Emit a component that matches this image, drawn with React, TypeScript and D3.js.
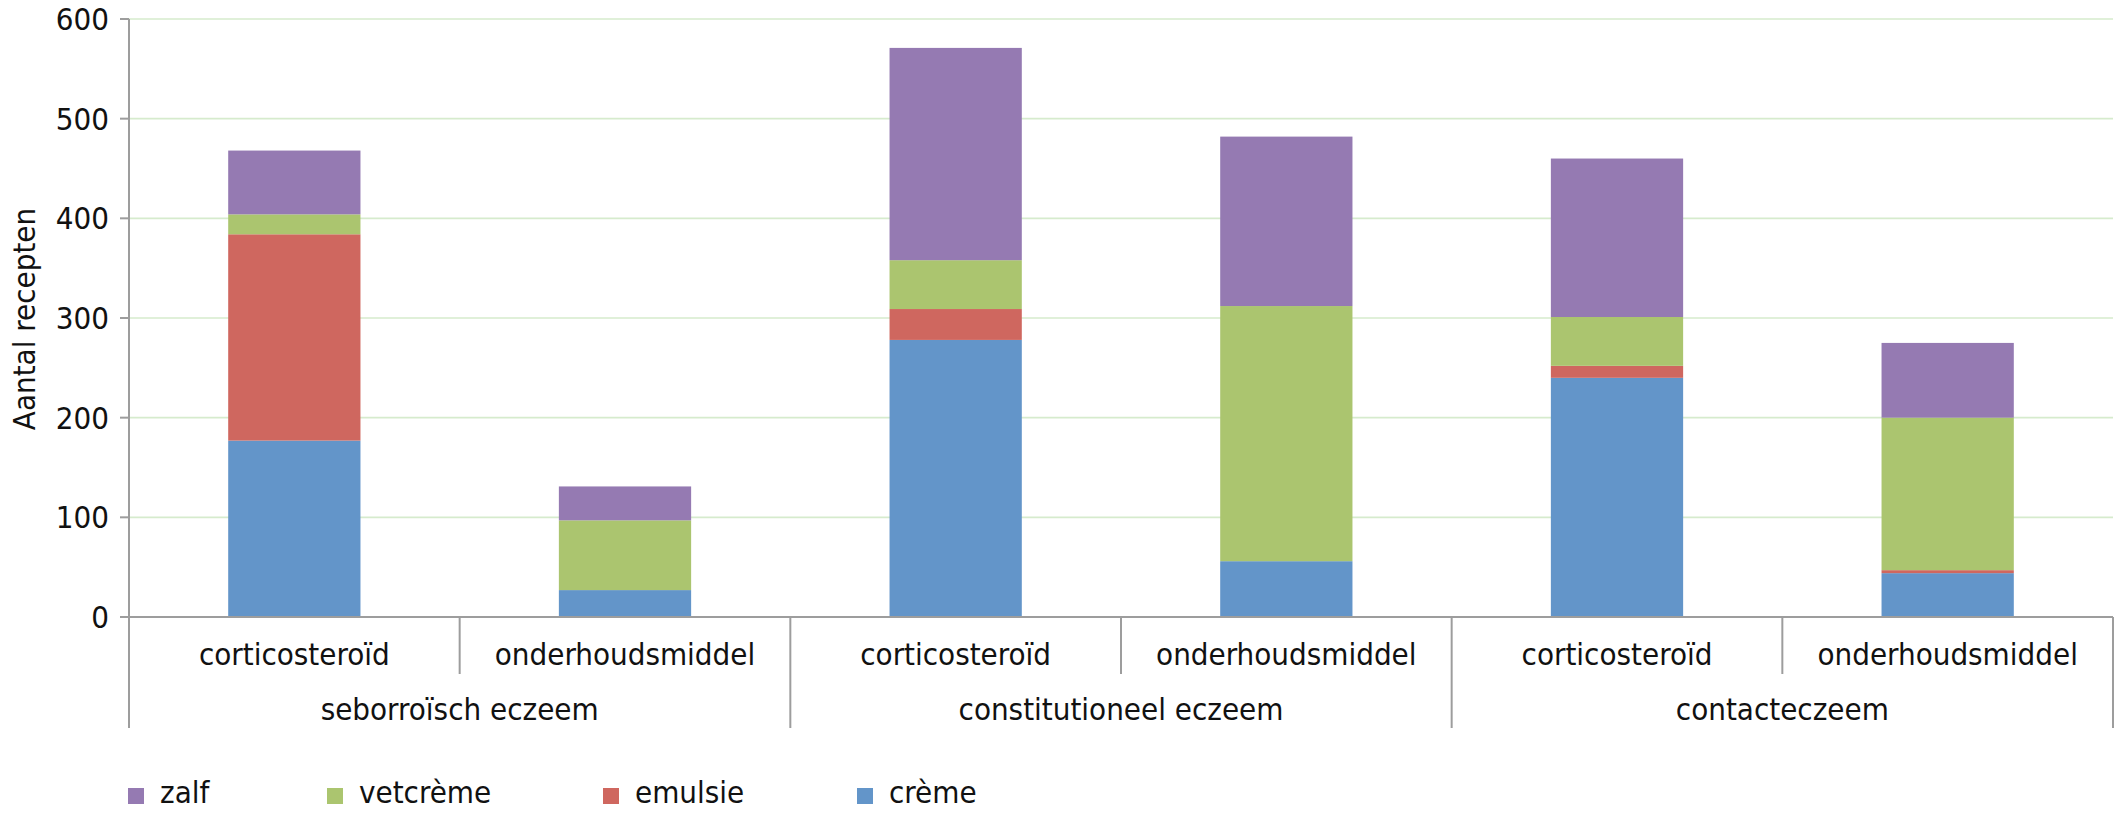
import React, { useEffect, useRef } from 'react'
import * as d3 from 'd3'

// categories
const groups = ['seborroïsch eczeem', 'constitutioneel eczeem', 'contacteczeem']
const subTypes = ['corticosteroïd', 'onderhoudsmiddel']

// series values, one per bar (group x subtype)
const creme = [177, 27, 278, 56, 240, 44]
const emulsie = [207, 0, 31, 0, 12, 3]
const vetcreme = [20, 70, 49, 256, 49, 153]
const zalf = [64, 34, 213, 170, 159, 75]

const seriesNames = ['crème', 'emulsie', 'vetcrème', 'zalf']
const seriesColors = ['#6395c9', '#cf675f', '#abc56f', '#957ab2']
const legendOrder = ['zalf', 'vetcrème', 'emulsie', 'crème']

const yTicks = [0, 100, 200, 300, 400, 500, 600]

const W = 2126
const H = 835
const FONT = '"DejaVu Sans Condensed", "DejaVu Sans", sans-serif'

export default function App() {
    const svgRef = useRef<SVGSVGElement>(null)

    useEffect(() => {
        document.body.style.margin = '0'
        document.body.style.overflow = 'hidden'

        const svg = d3.select(svgRef.current)
        svg.selectAll('*').remove()

        const left = 129, right = 2113, top = 19, bottom = 617

        const keys: string[] = []
        groups.forEach(g => subTypes.forEach(s => keys.push(g + '|' + s)))

        const rows = keys.map((k, i) => ({
            key: k,
            'crème': creme[i],
            'emulsie': emulsie[i],
            'vetcrème': vetcreme[i],
            'zalf': zalf[i],
        }))

        const x = d3.scaleBand<string>()
            .domain(keys)
            .range([left, right])
            .paddingInner(0.6)
            .paddingOuter(0.3)

        const y = d3.scaleLinear().domain([0, 600]).range([bottom, top])

        const color = d3.scaleOrdinal<string, string>().domain(seriesNames).range(seriesColors)

        const stacked = d3.stack<any>().keys(seriesNames)(rows)

        // gridlines
        svg.append('g')
            .selectAll('line')
            .data(yTicks.filter(t => t > 0))
            .join('line')
            .attr('x1', left)
            .attr('x2', right)
            .attr('y1', d => y(d))
            .attr('y2', d => y(d))
            .attr('stroke', '#d6ebcd')
            .attr('stroke-width', 1.6)

        // bars
        svg.append('g')
            .selectAll('g')
            .data(stacked)
            .join('g')
            .attr('fill', d => color(d.key))
            .selectAll('rect')
            .data(d => d)
            .join('rect')
            .attr('x', d => x(d.data.key)!)
            .attr('width', x.bandwidth())
            .attr('y', d => y(d[1]))
            .attr('height', d => y(d[0]) - y(d[1]))

        // y axis
        const yAxis = svg.append('g')
        yAxis.append('line')
            .attr('x1', left).attr('x2', left)
            .attr('y1', top).attr('y2', bottom)
            .attr('stroke', '#9d9d9d').attr('stroke-width', 2)
        yAxis.selectAll('line.tick')
            .data(yTicks)
            .join('line')
            .attr('class', 'tick')
            .attr('x1', left - 9).attr('x2', left)
            .attr('y1', d => y(d)).attr('y2', d => y(d))
            .attr('stroke', '#9d9d9d').attr('stroke-width', 2)
        yAxis.selectAll('text')
            .data(yTicks)
            .join('text')
            .attr('x', 109)
            .attr('y', d => y(d))
            .attr('dy', '0.36em')
            .attr('text-anchor', 'end')
            .style('font', '31px ' + FONT)
            .attr('fill', '#111')
            .text(d => d)

        svg.append('text')
            .attr('transform', 'translate(35,319) rotate(-90)')
            .attr('text-anchor', 'middle')
            .style('font', '31px ' + FONT)
            .attr('fill', '#111')
            .text('Aantal recepten')

        // x axis with two category levels
        const step = x.step()
        const xAxis = svg.append('g')
        xAxis.append('line')
            .attr('x1', left).attr('x2', right)
            .attr('y1', bottom).attr('y2', bottom)
            .attr('stroke', '#9d9d9d').attr('stroke-width', 2)
        xAxis.selectAll('line.sep')
            .data(d3.range(keys.length + 1))
            .join('line')
            .attr('class', 'sep')
            .attr('x1', i => left + i * step).attr('x2', i => left + i * step)
            .attr('y1', bottom).attr('y2', i => (i % subTypes.length === 0 ? 728 : 674))
            .attr('stroke', '#9d9d9d').attr('stroke-width', 2)
        xAxis.selectAll('text.sub')
            .data(keys)
            .join('text')
            .attr('class', 'sub')
            .attr('x', k => x(k)! + x.bandwidth() / 2)
            .attr('y', 665)
            .attr('text-anchor', 'middle')
            .style('font', '31px ' + FONT)
            .attr('fill', '#111')
            .text(k => k.split('|')[1])
        xAxis.selectAll('text.grp')
            .data(groups)
            .join('text')
            .attr('class', 'grp')
            .attr('x', (g, i) => left + (i + 0.5) * step * subTypes.length)
            .attr('y', 720)
            .attr('text-anchor', 'middle')
            .style('font', '31px ' + FONT)
            .attr('fill', '#111')
            .text(g => g)

        // legend
        const legendX = [128, 327, 603, 857]
        const legend = svg.append('g')
            .selectAll('g')
            .data(legendOrder)
            .join('g')
            .attr('transform', (d, i) => 'translate(' + legendX[i] + ',788)')
        legend.append('rect')
            .attr('width', 16).attr('height', 16)
            .attr('fill', d => color(d))
        legend.append('text')
            .attr('x', 32).attr('y', 15)
            .style('font', '31px ' + FONT)
            .attr('fill', '#111')
            .text(d => d)
    }, [])

    return (
        <svg ref={svgRef} width={W} height={H} style={{ display: 'block', background: '#fff' }} />
    )
}
